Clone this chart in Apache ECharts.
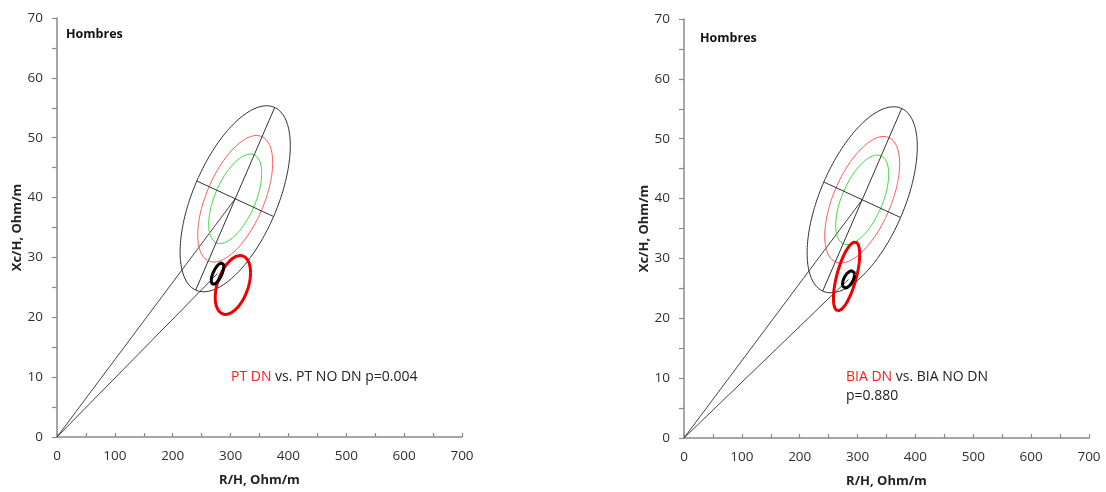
<!DOCTYPE html>
<html><head><meta charset="utf-8">
<script src="https://cdn.jsdelivr.net/npm/echarts@6/dist/echarts.min.js"></script>
<style>html,body{margin:0;padding:0;background:#fff}#c{width:1106px;height:492px}</style>
</head><body><div id="c"></div>
<script>
// ---- data ----
const xRange = [0, 700];
const yRange = [0, 70];
const xTickStep = 50;   // ticks every 50, labels every 100
const yTickStep = 5;    // ticks every 5, labels every 10
// reference tolerance ellipses (same in both panels): mean R, mean Xc, SD R, SD Xc, r
const refMean = [308, 39.8];
const refSD = [38.9, 6.35];
const refCorr = 0.571;
const refLevels = [0.50, 0.75, 0.95];
const refColors = ['#3fdc3f', '#ff5a5a', '#333333'];
// confidence ellipses: [centre R, centre Xc, half-width R, half-height Xc, correlation]
const ptDN = [304, 25.4, 30.5, 4.92, 0.42];
const ptNoDN = [277.4, 27.3, 10.8, 1.8, 0.66];
const biaDN = [281, 27.0, 22.7, 5.74, 0.64];
const biaNoDN = [284.3, 26.5, 10.4, 1.45, 0.55];
const panelTitles = ['Hombres', 'Hombres'];
const axisNames = ['R/H, Ohm/m', 'Xc/H, Ohm/m'];
const notes = [
  '{r|PT DN}{k| vs. PT NO DN p=0.004}',
  '{r|BIA DN}{k| vs. BIA NO DN}\n{k|p=0.880}'
];

const FONT = 'Open Sans';

function ellipse(cx, cy, hx, hy, r) {
  const pts = [];
  const n = 180, s = Math.sqrt(1 - r * r);
  for (let i = 0; i <= n; i++) {
    const t = 2 * Math.PI * i / n;
    pts.push([cx + hx * Math.cos(t), cy + hy * (r * Math.cos(t) + s * Math.sin(t))]);
  }
  return pts;
}
function kOf(p) { return Math.sqrt(-2 * Math.log(1 - p)); }

// principal axes of the 95% reference ellipse, in the plot's scaled space
function refAxes() {
  const sc = (xRange[1] - xRange[0]) / (yRange[1] - yRange[0]);
  const k = kOf(refLevels[2]);
  const a = refSD[0] * refSD[0];
  const b = refCorr * refSD[0] * refSD[1] * sc;
  const c = (refSD[1] * sc) * (refSD[1] * sc);
  const m = (a + c) / 2, d = Math.sqrt(((a - c) / 2) ** 2 + b * b);
  const l1 = m + d, l2 = m - d;
  let v = [b, l1 - a]; let L = Math.hypot(v[0], v[1]); v = [v[0] / L, v[1] / L];
  const w = [-v[1], v[0]];
  const s1 = k * Math.sqrt(l1), s2 = k * Math.sqrt(l2);
  const maj = [[refMean[0] - v[0] * s1, refMean[1] - v[1] * s1 / sc], [refMean[0] + v[0] * s1, refMean[1] + v[1] * s1 / sc]];
  const min = [[refMean[0] - w[0] * s2, refMean[1] - w[1] * s2 / sc], [refMean[0] + w[0] * s2, refMean[1] + w[1] * s2 / sc]];
  return [maj, min];
}

const chart = echarts.init(document.getElementById('c'), null, { renderer: 'canvas' });

const axisColor = '#8a8a8a';
function xAx(i) {
  return {
    gridIndex: i, type: 'value', min: xRange[0], max: xRange[1], interval: xTickStep,
    axisLine: { show: true, lineStyle: { color: axisColor, width: 1.5 } },
    axisTick: { show: true, inside: true, length: 4, lineStyle: { color: axisColor, width: 1.2 } },
    splitLine: { show: false },
    axisLabel: { color: '#303030', fontSize: 13.5, fontFamily: FONT, margin: 12,
      formatter: v => (v % 100 === 0 ? String(v) : '') },
    name: axisNames[0], nameLocation: 'middle', nameGap: 37,
    nameTextStyle: { color: '#222', fontSize: 13, fontWeight: 'bold', fontFamily: FONT }
  };
}
function yAx(i) {
  return {
    gridIndex: i, type: 'value', min: yRange[0], max: yRange[1], interval: yTickStep,
    axisLine: { show: true, lineStyle: { color: axisColor, width: 1.5 } },
    axisTick: { show: true, inside: false, length: 5, lineStyle: { color: axisColor, width: 1.2 } },
    splitLine: { show: false },
    axisLabel: { color: '#303030', fontSize: 13.5, fontFamily: FONT, margin: 14,
      formatter: v => (v % 10 === 0 ? String(v) : '') },
    name: axisNames[1], nameLocation: 'middle', nameGap: 32,
    nameTextStyle: { color: '#222', fontSize: 13, fontWeight: 'bold', fontFamily: FONT }
  };
}

function lineSeries(i, data, color, width, z) {
  return { type: 'line', xAxisIndex: i, yAxisIndex: i, data: data, symbol: 'none', showSymbol: false,
    silent: true, animation: false, z: z || 2, clip: false,
    lineStyle: { color: color, width: width } };
}

const series = [];
const [maj, mnr] = refAxes();
[[ptDN, ptNoDN], [biaDN, biaNoDN]].forEach(([dn, nodn], i) => {
  series.push(lineSeries(i, [[0, 0], refMean], '#444', 1, 2));
  series.push(lineSeries(i, [[0, 0], [nodn[0], nodn[1]]], '#444', 1, 2));
  refLevels.forEach((p, j) => {
    const k = kOf(p);
    series.push(lineSeries(i, ellipse(refMean[0], refMean[1], k * refSD[0], k * refSD[1], refCorr), refColors[j], 1, 3));
  });
  series.push(lineSeries(i, maj, '#333', 1, 3));
  series.push(lineSeries(i, mnr, '#333', 1, 3));
  series.push(lineSeries(i, ellipse(dn[0], dn[1], dn[2], dn[3], dn[4]), '#ee0000', 3, 4));
  series.push(lineSeries(i, ellipse(nodn[0], nodn[1], nodn[2], nodn[3], nodn[4]), '#000000', 3, 5));
});

const rich = {
  r: { color: '#ff1a1a', fontSize: 14, fontWeight: 'normal', fontFamily: FONT, lineHeight: 19 },
  k: { color: '#222', fontSize: 14, fontWeight: 'normal', fontFamily: FONT, lineHeight: 19 }
};

chart.setOption({
  animation: false,
  backgroundColor: '#fff',
  title: [
    { text: panelTitles[0], left: 66, top: 28, padding: 0, textStyle: { fontSize: 12.5, fontWeight: 'bold', color: '#111', fontFamily: FONT } },
    { text: panelTitles[1], left: 700, top: 32, padding: 0, textStyle: { fontSize: 12.5, fontWeight: 'bold', color: '#111', fontFamily: FONT } },
    { text: notes[0], left: 231, top: 368, padding: 0, textStyle: { rich: rich, fontWeight: 'normal', fontFamily: FONT } },
    { text: notes[1], left: 846, top: 368, padding: 0, textStyle: { rich: rich, fontWeight: 'normal', fontFamily: FONT } }
  ],
  grid: [
    { left: 57, top: 18, width: 405, height: 419, containLabel: false, outerBoundsMode: 'none' },
    { left: 684, top: 19, width: 405, height: 419, containLabel: false, outerBoundsMode: 'none' }
  ],
  xAxis: [xAx(0), xAx(1)],
  yAxis: [yAx(0), yAx(1)],
  series: series
});
</script>
</body></html>
